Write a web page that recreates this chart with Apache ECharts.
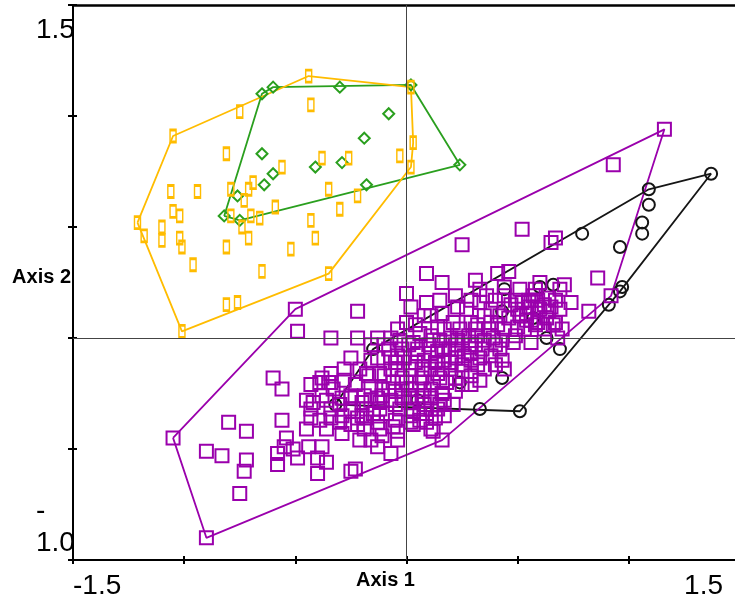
<!DOCTYPE html>
<html>
<head>
<meta charset="utf-8">
<script src="https://cdn.jsdelivr.net/npm/echarts@6/dist/echarts.min.js"></script>
<style>
html,body{margin:0;padding:0;background:#fff;}
#chart{width:735px;height:602px;}
</style>
</head>
<body>
<div id="chart"></div>
<script>
// ---- data (Axis 1, Axis 2 scores) ----
var xTickLabels = ['-1.5', '1.5'];
var yTickLabels = ['-1.0', '1.5'];

var yellowGroup = [
 [-0.44,1.18],[0.02,1.13],[-0.75,1.02],[-0.43,1.05],[-1.05,0.91],[-0.81,0.83],[0.03,0.88],[-0.03,0.82],
 [0.02,0.77],[-0.38,0.81],[-0.26,0.81],[-0.56,0.77],[-1.06,0.66],[-0.94,0.66],[-0.79,0.67],[-0.71,0.67],
 [-0.69,0.70],[-0.35,0.67],[-0.22,0.64],[-0.30,0.58],[-1.05,0.57],[-1.02,0.55],[-1.21,0.52],[-1.18,0.46],
 [-1.10,0.50],[-1.10,0.44],[-1.02,0.45],[-1.01,0.41],[-0.96,0.33],[-0.81,0.41],[-0.79,0.55],[-0.73,0.62],
 [-0.70,0.55],[-0.66,0.54],[-0.59,0.59],[-0.74,0.50],[-0.71,0.45],[-0.43,0.53],[-0.41,0.45],[-0.52,0.40],
 [-0.65,0.30],[-0.35,0.29],[-0.81,0.15],[-0.76,0.16],[-1.01,0.03]
];
var greenGroup = [
 [-0.65,1.10],[-0.60,1.13],[-0.30,1.13],[0.02,1.14],[-0.08,1.01],[-0.19,0.90],[-0.65,0.83],[-0.41,0.77],
 [-0.29,0.79],[-0.60,0.74],[-0.64,0.69],[-0.18,0.69],[0.24,0.78],[-0.76,0.64],[-0.82,0.55],[-0.75,0.53]
];
var blackGroup = [
 [1.37,0.74],[1.09,0.67],[1.09,0.60],[1.06,0.52],[1.06,0.47],[0.79,0.47],[0.96,0.41],[0.97,0.23],
 [0.96,0.21],[0.91,0.15],[0.66,0.24],[0.60,0.23],[0.44,0.22],[0.43,0.12],[0.57,0.09],[0.63,0.00],
 [0.69,-0.05],[0.43,-0.18],[0.51,-0.33],[0.33,-0.32],[-0.15,-0.05],[-0.32,-0.30],[0.24,-0.20],[0.05,-0.28]
];
var purpleGroup = [
 [1.16,0.94],[0.92,0.19],[0.16,-0.46],[-0.90,-0.90],[-1.05,-0.45],[-0.50,0.13],
 [-0.22,0.12],[-0.49,0.03],[-0.34,0.00],[-0.22,0.00],[-0.13,0.00],[-0.25,-0.09],[-0.60,-0.18],[-0.56,-0.23],
 [-0.34,-0.16],[-0.43,-0.21],[-0.38,-0.18],[-0.33,-0.23],[-0.29,-0.27],[-0.45,-0.28],[-0.42,-0.29],[-0.36,-0.28],
 [-0.25,-0.27],[-0.80,-0.38],[-0.72,-0.42],[-0.56,-0.37],[-0.43,-0.36],[-0.39,-0.37],[-0.34,-0.36],[-0.45,-0.41],
 [-0.36,-0.41],[-0.29,-0.43],[-0.22,-0.36],[-0.18,-0.32],[-0.22,-0.39],[-0.18,-0.36],[-0.12,-0.29],[-0.08,-0.23],
 [-0.11,-0.44],[-0.04,-0.42],[-0.07,-0.52],[-0.54,-0.45],[-0.55,-0.49],[-0.58,-0.52],[-0.51,-0.50],[-0.44,-0.49],
 [-0.38,-0.49],[-0.49,-0.54],[-0.40,-0.54],[-0.36,-0.56],[-0.58,-0.57],[-0.40,-0.61],[-0.90,-0.51],[-0.83,-0.53],
 [-0.72,-0.55],[-0.73,-0.60],[-0.75,-0.70],[-0.25,-0.60],[-0.23,-0.59],[0.12,-0.42],[0.06,-0.34],[0.03,-0.39],
 [-0.13,-0.49],[-0.17,-0.17],[-0.39,-0.20],[-0.35,-0.20],
 [0.09,0.29],[0.16,0.25],[0.31,0.26],[0.41,0.29],[0.46,0.30],[0.60,0.25],[0.00,0.20],[0.02,0.14],
 [0.09,0.16],[0.00,0.07],[0.11,0.10],[0.16,0.11],[0.23,0.14],[0.27,0.13],[0.36,0.19],[0.33,0.16],
 [0.47,0.15],[0.49,0.17],[0.52,0.16],[0.56,0.17],[0.59,0.14],[0.54,0.08],[0.50,0.05],[0.38,0.07],
 [0.29,0.07],[0.21,0.07],[0.14,0.05],[0.06,0.02],[-0.04,0.04],[-0.07,0.00],[0.03,-0.02],[0.12,-0.01],
 [0.20,0.00],[0.25,0.00],[0.32,0.01],[0.39,0.00],[0.43,-0.01],[0.48,-0.02],[0.56,-0.02],[0.43,-0.10],
 [0.44,-0.14],[0.34,-0.05],[0.29,-0.07],[0.23,-0.05],[0.16,-0.05],[0.11,-0.07],[0.05,-0.07],[-0.02,-0.05],
 [-0.07,-0.09],[-0.13,-0.09],[-0.18,-0.16],[-0.12,-0.16],[-0.04,-0.14],[0.02,-0.14],[0.07,-0.14],[0.14,-0.16],
 [0.20,-0.14],[0.25,-0.12],[0.32,-0.12],[-0.06,-0.20],[0.00,-0.20],[0.06,-0.20],[0.12,-0.20],[0.18,-0.20],
 [0.25,-0.21],[-0.16,-0.22],[-0.11,-0.23],[-0.13,-0.27],[-0.07,-0.28],[-0.02,-0.27],[0.05,-0.27],[0.11,-0.27],
 [0.16,-0.25],[0.21,-0.30],[-0.20,-0.29],[-0.25,-0.32],[-0.15,-0.34],[-0.09,-0.34],[-0.03,-0.32],[0.03,-0.32],
 [0.09,-0.34],[0.14,-0.32],[-0.13,-0.38],[-0.06,-0.40],[0.02,-0.38],[0.09,-0.38],[0.11,-0.41],[-0.30,-0.38],
 [-0.34,-0.20],
 [0.25,0.42],[0.65,0.43],[0.67,0.45],[0.52,0.49],[0.93,0.78],[0.86,0.27],[0.71,0.24],[0.64,0.18],
 [0.74,0.16],[0.82,0.12],[0.69,0.22],[0.57,0.19],[0.65,0.14],[0.70,0.04],[0.66,0.06],[0.54,0.11],
 [0.59,0.07],[0.67,0.07],[0.63,0.09],[0.60,0.13],[0.55,0.17],[0.44,0.23],[0.68,0.00],
 [-0.10,-0.03],[-0.05,-0.11],[-0.01,-0.09],[0.04,-0.11],[0.08,-0.10],[0.13,-0.11],[0.17,-0.10],[0.22,-0.09],
 [0.26,-0.08],[0.31,-0.03],[0.35,-0.01],[0.40,-0.03],[0.44,0.04],[0.49,0.01],[0.53,0.04],[0.58,0.06],
 [0.62,0.04],[0.42,0.10],[0.35,0.10],[0.31,0.04],[0.24,0.04],[0.17,0.04],[0.11,0.01],[0.04,0.06],
 [-0.03,-0.01],[-0.10,-0.17],[-0.05,-0.24],[0.02,-0.23],[0.08,-0.23],[0.15,-0.18],[0.22,-0.18],[0.29,-0.17],
 [0.33,-0.09],[0.38,-0.08],[0.15,-0.30],[0.08,-0.30],[0.02,-0.29],[-0.05,-0.30],[-0.12,-0.32],[-0.19,-0.26],
 [-0.23,-0.21],[-0.28,-0.19],[-0.30,-0.30],[-0.25,-0.39],[-0.19,-0.41],[-0.12,-0.41],[-0.05,-0.37],[0.02,-0.35],
 [0.06,-0.37],[0.13,-0.36],[0.17,-0.35],[-0.16,-0.10],[-0.21,-0.14],[-0.28,-0.14],[-0.16,-0.03],
 [0.33,0.22],[0.40,0.17],[0.44,0.19],[0.51,0.22],[0.58,0.22],[0.62,0.15],[0.67,0.17],[0.69,0.13],
 [0.56,0.08],[0.51,0.10],[0.38,0.13],[0.29,0.17],[0.22,0.19],[0.15,0.17],[0.08,0.10],[0.15,-0.01],
 [0.22,-0.03],[0.29,-0.03],[0.42,-0.05],[0.40,-0.12],[0.35,-0.14],[0.29,-0.21],[0.33,-0.19],[0.22,-0.24],
 [0.17,-0.28],[0.11,-0.32],
 [-0.08,-0.05],[-0.04,-0.08],[0.01,-0.03],[0.05,-0.05],[0.10,-0.03],[0.14,-0.06],[0.19,-0.05],[0.23,-0.01],
 [0.28,0.01],[0.32,0.06],[0.37,0.04],[0.41,0.06],[0.46,0.09],[0.50,0.13],[0.55,0.14],[0.59,0.17],
 [0.64,0.12],[-0.07,-0.14],[-0.02,-0.18],[0.02,-0.17],[0.07,-0.18],[0.11,-0.14],[0.16,-0.14],[0.20,-0.11],
 [0.25,-0.15],[0.29,-0.10],[-0.11,-0.26],[-0.02,-0.23],[0.02,-0.27],[0.07,-0.26],[0.11,-0.23],[-0.20,-0.35],
 [-0.16,-0.28],[-0.25,-0.26],[-0.29,-0.35],[-0.34,-0.32],[-0.38,-0.26],[-0.43,-0.32],[-0.21,-0.46],[-0.16,-0.46],
 [-0.04,-0.46]
];

// ---- convex hull (monotone chain) ----
function hull(pts) {
  var p = pts.slice().sort(function(a,b){return a[0]-b[0] || a[1]-b[1];});
  function cross(o,a,b){return (a[0]-o[0])*(b[1]-o[1])-(a[1]-o[1])*(b[0]-o[0]);}
  var lower=[], upper=[];
  for (var i=0;i<p.length;i++){while(lower.length>=2&&cross(lower[lower.length-2],lower[lower.length-1],p[i])<=0)lower.pop();lower.push(p[i]);}
  for (var j=p.length-1;j>=0;j--){while(upper.length>=2&&cross(upper[upper.length-2],upper[upper.length-1],p[j])<=0)upper.pop();upper.push(p[j]);}
  upper.pop(); lower.pop();
  var h = lower.concat(upper);
  h.push(h[0]);
  return h;
}

var COL = {yellow:'#FFBC00', green:'#2A9F1E', purple:'#9A00AC', black:'#151515'};
var FONT = 'Liberation Sans, Arial, Helvetica, sans-serif';

function hullSeries(pts, color) {
  return {type:'line', data:hull(pts), showSymbol:false, symbol:'none', silent:true,
    lineStyle:{color:color, width:1.8}, z:3, animation:false};
}
function pointSeries(pts, color, symbol, size) {
  return {type:'scatter', data:pts, symbol:symbol, symbolSize:size, silent:true,
    itemStyle:{color:'rgba(0,0,0,0)', borderColor:color, borderWidth:2, opacity:1}, z:4, animation:false};
}

var chart = echarts.init(document.getElementById('chart'), null, {renderer:'canvas'});
chart.setOption({
  animation:false,
  backgroundColor:'#fff',
  grid:{left:73, top:5, width:667, height:555, containLabel:false, outerBoundsMode:'none'},
  xAxis:[
    {type:'value', min:-1.5, max:1.5, interval:0.5, position:'bottom',
     axisLine:{show:true, onZero:false, lineStyle:{color:'#000', width:2}},
     axisTick:{show:true, length:4, lineStyle:{color:'#000', width:2}},
     splitLine:{show:false},
     axisLabel:{show:true, showMinLabel:true, showMaxLabel:true, margin:12, color:'#000', fontSize:28, fontFamily:FONT,
       alignMinLabel:'left', alignMaxLabel:'right',
       formatter:function(v){ if (v===-1.5) return xTickLabels[0]; if (v===1.5) return '{r|'+xTickLabels[1]+'}'; return ''; },
       rich:{r:{fontSize:28, fontFamily:FONT, color:'#000', padding:[0,17,0,0]}}},
     name:'Axis 1', nameLocation:'middle', nameGap:10, nameMoveOverlap:false,
     nameTextStyle:{color:'#000', fontSize:20, fontWeight:'bold', fontFamily:FONT, padding:[0,42,0,0], verticalAlign:'top'}},
    {type:'value', min:-1.5, max:1.5, interval:0.5, position:'bottom',
     axisLine:{show:false, onZero:false}, axisTick:{show:true, inside:true, length:4, lineStyle:{color:'#000', width:2}},
     axisLabel:{show:false}, splitLine:{show:false}},
    {type:'value', min:-1.5, max:1.5, interval:0.5, position:'top',
     axisLine:{show:true, onZero:false, lineStyle:{color:'#000', width:2.5}}, axisTick:{show:false},
     axisLabel:{show:false}, splitLine:{show:false}}
  ],
  yAxis:[
    {type:'value', min:-1, max:1.5, interval:0.5, position:'left',
     axisLine:{show:true, onZero:false, lineStyle:{color:'#000', width:2}},
     axisTick:{show:true, length:5, lineStyle:{color:'#000', width:2}},
     splitLine:{show:false},
     axisLabel:{show:true, showMinLabel:true, showMaxLabel:true, align:'left', margin:37, color:'#000', fontSize:28, fontFamily:FONT,
       formatter:function(v){
         if (v===1.5) return '{s| }\n{n|'+yTickLabels[1]+'}';
         if (v===-1) { var t = yTickLabels[0]; return '{n|'+t.charAt(0)+'}\n{n|'+t.slice(1)+'}\n{s2| }'; }
         return '';
       },
       rich:{n:{fontSize:28, lineHeight:32, fontFamily:FONT, color:'#000', align:'left'},
             s:{fontSize:10, lineHeight:50},
             s2:{fontSize:10, lineHeight:66}}},
     name:'Axis 2', nameLocation:'middle', nameGap:2, nameRotate:0, nameMoveOverlap:false,
     nameTextStyle:{color:'#000', fontSize:20, fontWeight:'bold', fontFamily:FONT, align:'right', verticalAlign:'bottom', lineHeight:11}},
    {type:'value', min:-1, max:1.5, interval:0.5, position:'left',
     axisLine:{show:false, onZero:false}, axisTick:{show:true, inside:true, length:4, lineStyle:{color:'#000', width:2}},
     axisLabel:{show:false}, splitLine:{show:false}}
  ],
  series:[
    {type:'line', data:[], silent:true, z:1,
     markLine:{silent:true, symbol:'none', label:{show:false}, animation:false,
       lineStyle:{color:'#444', width:1, type:'solid'},
       data:[{xAxis:0},{yAxis:0}]}},
    hullSeries(blackGroup, COL.black),
    pointSeries(blackGroup, COL.black, 'circle', 12),
    hullSeries(purpleGroup, COL.purple),
    pointSeries(purpleGroup, COL.purple, 'rect', 13),
    hullSeries(greenGroup, COL.green),
    pointSeries(greenGroup, COL.green, 'diamond', 11),
    hullSeries(yellowGroup, COL.yellow),
    pointSeries(yellowGroup, COL.yellow, 'rect', [6,12])
  ]
});
</script>
</body>
</html>
